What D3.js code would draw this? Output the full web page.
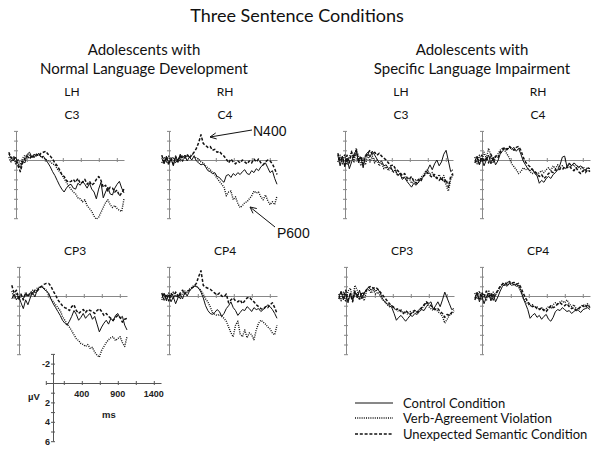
<!DOCTYPE html>
<html><head><meta charset="utf-8">
<script src="https://cdn.jsdelivr.net/npm/d3@7"></script>
<style>body{margin:0;background:#fff}svg{display:block}</style>
</head><body>
<svg id="c" width="600" height="456"></svg>
<script>
// ---------- DATA ----------
const times = [-100,-68,-36,-4,28,60,92,124,156,188,220,252,284,316,348,380,412,444,476,508,540,572,604,636,668,700,732,764,796,828,860,892,924,956,988,1020,1052,1084,1116,1148,1180,1212,1244,1276,1308,1340,1372,1404,1436,1468,1500];
const conditions = ["Control Condition","Verb-Agreement Violation","Unexpected Semantic Condition"];
const groupTitles = [["Adolescents with","Normal Language Development"],["Adolescents with","Specific Language Impairment"]];
const hemiLabels = ["LH","RH"];
const electrodes = ["C3","C4","CP3","CP4"];
const xTicks = [150,400,650,900,1150,1400];
const xTickLabels = ["400","900","1400"];
const yTickLabels = [-2,2,4,6];

// Normal language development
const nlC3Control = [-0.6,-0.2,0.1,-0.3,0.4,0.8,0.1,0.3,-0.6,-0.8,-0.3,-0.6,-0.4,-0.7,-0.3,-0.4,0.0,0.3,0.7,1.2,1.6,2.1,2.6,3.0,3.3,2.9,2.6,2.5,2.9,3.0,2.4,2.6,2.2,2.5,2.9,2.4,3.0,3.3,4.0,3.0,2.3,3.9,3.3,2.8,3.5,3.6,2.9,2.5,2.2,2.9,3.4];
const nlC3Verb = [-0.3,0.2,-0.2,0.4,-0.1,0.5,-0.2,-0.5,-0.3,-0.6,-0.2,-0.5,-0.4,-0.6,-0.3,-0.2,-0.1,0.1,0.2,0.4,0.5,0.9,1.2,1.5,1.9,2.3,2.7,3.0,3.3,3.5,3.9,4.0,4.3,4.1,4.7,5.0,5.3,5.8,6.1,5.9,5.4,4.9,4.4,4.1,4.6,4.9,4.7,5.0,5.2,5.3,4.0];
const nlC3Semantic = [-0.8,-0.2,-0.4,0.1,0.6,1.2,0.3,-0.2,-0.4,-0.1,-0.5,-0.3,-0.6,-0.4,-0.7,-0.8,-0.9,-0.6,-0.4,-0.1,0.3,0.6,1.0,1.5,1.7,2.1,2.3,2.2,2.0,2.3,1.9,2.4,2.3,2.0,2.5,2.2,2.6,2.4,2.0,1.7,2.1,2.8,2.6,3.2,2.8,2.9,3.3,3.1,3.7,3.4,3.0];
const nlC4Control = [-0.2,0.4,-0.4,0.3,-0.1,0.6,-0.3,0.2,-0.6,-0.2,-0.5,0.1,-0.3,0.0,-0.4,0.1,0.3,0.5,0.4,0.7,1.1,1.2,1.4,1.3,1.7,1.8,2.1,2.3,1.6,1.5,1.8,1.4,1.6,1.3,1.5,1.2,1.0,1.4,1.5,1.1,1.3,0.9,1.1,0.7,0.5,0.3,0.8,1.3,1.1,1.9,2.5];
const nlC4Verb = [0.3,-0.3,0.2,-0.4,0.1,-0.3,0.3,-0.2,0.1,-0.4,-0.1,-0.5,-0.3,-0.6,-0.4,-0.2,-0.1,0.2,0.3,0.6,0.8,1.0,1.3,1.5,1.9,2.2,2.5,2.8,3.7,3.3,3.2,4.1,3.8,4.5,4.9,4.7,4.4,4.3,4.0,3.7,3.2,3.4,3.3,3.8,4.1,3.6,4.2,4.6,4.3,4.6,3.7];
const nlC4Semantic = [-0.5,0.3,-0.3,0.5,-0.2,0.4,-0.4,0.2,-0.5,0.1,-0.3,-0.6,-0.2,-0.5,-0.8,-1.2,-1.8,-2.6,-1.7,-1.5,-1.3,-1.4,-1.0,-1.1,-0.8,-0.9,-0.6,-0.4,-0.1,0.3,-0.1,0.2,0.4,0.1,0.3,0.0,0.2,0.4,0.1,0.3,-0.1,0.2,-0.1,0.3,0.5,0.2,0.0,0.1,0.4,0.9,1.5];
const nlCP3Control = [0.3,-0.2,0.4,0.0,0.7,1.3,0.4,0.9,0.2,-0.4,0.1,-0.6,-0.9,-1.0,-0.7,-0.5,-0.3,0.3,0.8,1.2,1.6,2.0,2.5,2.8,3.0,2.6,2.1,1.5,1.9,2.5,2.2,1.8,2.3,2.0,1.8,2.4,2.1,2.9,3.7,3.2,2.8,2.5,2.9,2.3,2.6,2.0,1.8,2.3,2.1,3.0,3.5];
const nlCP3Verb = [-0.5,0.2,-0.3,0.4,-0.1,0.3,-0.4,0.0,-0.3,-0.6,-0.3,-0.8,-0.9,-1.0,-0.8,-0.6,-0.1,0.3,0.6,0.9,1.2,1.5,2.1,2.5,2.9,3.2,3.6,4.0,4.4,4.6,4.9,5.0,5.2,5.0,5.4,5.3,5.8,6.1,6.3,5.6,5.2,4.8,4.5,4.3,4.2,4.6,4.4,4.2,4.8,5.2,4.2];
const nlCP3Semantic = [-1.1,-0.3,-0.6,0.2,-0.2,0.4,-0.3,0.1,-0.4,-0.2,-0.6,-0.5,-0.8,-1.0,-1.2,-1.3,-1.3,-1.0,-0.5,-0.1,0.4,0.7,1.0,1.2,1.3,1.5,1.1,0.9,1.5,1.8,1.6,1.4,1.7,1.4,1.5,1.6,1.8,1.5,1.3,1.6,2.0,1.8,2.1,2.3,2.5,2.2,2.0,2.2,2.7,2.4,2.3];
const nlCP4Control = [0.2,-0.3,0.5,-0.1,0.6,0.1,0.8,0.2,-0.2,0.3,-0.4,0.0,-0.5,-0.8,-1.0,-1.0,-0.8,-0.4,0.2,1.0,1.5,1.8,1.9,1.7,1.4,1.6,2.1,1.8,1.3,1.0,0.6,1.2,1.5,2.0,1.7,1.4,1.5,1.1,1.3,1.6,1.2,1.4,1.3,1.6,1.4,1.2,0.9,1.1,1.4,1.8,2.3];
const nlCP4Verb = [0.4,-0.2,0.3,-0.3,0.2,-0.4,0.1,-0.2,0.3,-0.3,-0.5,-0.4,-0.7,-0.9,-1.1,-1.0,-0.8,-0.6,-0.2,0.3,0.6,1.1,1.7,1.9,2.0,1.9,2.1,2.3,2.6,3.2,3.8,4.2,3.0,2.6,3.9,4.2,3.5,4.3,3.8,4.0,4.5,3.5,2.8,2.5,2.7,2.9,3.2,3.4,3.8,4.0,3.0];
const nlCP4Semantic = [-0.3,0.4,-0.2,0.5,-0.3,0.2,-0.4,0.1,-0.3,-0.6,-0.2,-0.5,-0.6,-0.8,-1.0,-1.3,-2.0,-2.6,-1.1,-0.9,-0.8,-0.7,-0.5,-0.3,-0.1,-0.3,0.0,0.1,-0.2,0.7,0.4,0.2,0.5,0.6,0.4,0.8,0.5,0.2,0.1,0.4,0.6,0.9,1.1,1.3,1.4,1.1,1.2,0.9,0.7,1.2,1.8];

// Specific language impairment
const sliC3Control = [-0.5,0.6,-0.4,0.7,-0.2,0.9,0.2,-0.6,-1.0,0.3,-0.3,0.8,-0.5,-0.8,-0.3,-0.9,-0.5,-0.1,0.3,0.1,0.6,0.5,0.9,0.7,1.2,1.0,1.6,1.4,2.0,1.8,2.2,2.5,2.8,2.4,2.6,2.3,2.0,1.8,1.4,1.0,0.5,1.0,0.4,0.0,0.6,0.2,-0.6,-1.0,0.1,1.2,1.0];
const sliC3Verb = [0.2,-0.5,0.4,-0.6,0.5,-0.3,-0.9,0.3,-1.2,-0.4,0.6,-0.2,0.5,-0.6,0.2,-0.4,0.3,0.0,0.6,0.3,0.9,0.7,1.1,0.8,1.3,1.1,1.6,1.4,1.9,1.7,2.1,1.9,2.4,2.2,2.0,2.3,1.8,1.6,1.2,1.0,1.5,1.3,1.7,1.9,1.5,2.0,1.6,2.6,3.2,2.0,1.5];
const sliC3Semantic = [-0.7,0.1,-0.3,0.5,-0.5,0.3,-0.8,-0.2,-1.0,0.1,-0.4,0.4,-0.3,-0.7,-1.0,-0.6,-0.8,-0.5,-0.7,-0.4,-0.2,0.0,0.3,0.6,0.5,0.9,1.1,1.3,1.6,1.4,1.8,2.0,1.7,2.2,2.4,2.0,2.2,1.7,1.5,1.3,1.6,1.8,1.5,1.9,2.1,1.8,2.3,2.0,2.8,1.7,1.4];
const sliC4Control = [0.1,-0.4,0.5,-0.2,0.6,0.0,-0.5,0.4,-0.3,0.5,0.1,-0.6,-0.9,-1.2,-1.0,-1.3,-1.1,-1.3,-0.9,-1.2,-0.6,0.1,0.5,0.9,1.1,0.9,1.4,1.6,2.4,2.1,2.3,1.9,1.7,1.9,1.5,1.3,1.0,0.5,-0.3,-0.4,0.7,0.3,0.6,0.3,0.5,0.8,0.6,0.9,1.1,0.8,0.9];
const sliC4Verb = [-0.3,0.4,-0.5,0.2,-0.8,-0.2,-1.2,-0.4,0.3,-0.3,-0.6,-1.0,-1.2,-1.0,-0.6,-0.2,0.4,0.7,1.0,1.4,1.2,0.8,1.0,0.9,1.2,1.4,1.2,1.5,1.3,1.1,1.3,1.0,0.8,1.1,0.6,0.9,0.5,0.8,0.6,0.9,0.7,0.4,0.6,0.5,0.8,0.6,0.9,0.7,1.0,0.8,0.9];
const sliC4Semantic = [0.3,-0.2,0.4,-0.5,0.2,-0.3,0.3,-0.6,0.0,-0.4,-0.2,-0.8,-1.1,-1.3,-1.1,-1.4,-1.2,-1.0,-1.3,-1.4,-1.0,-0.3,0.2,0.5,0.7,1.0,1.2,1.4,1.7,1.5,1.9,1.7,1.4,1.2,1.3,1.0,1.1,0.9,1.0,0.7,0.8,0.6,0.9,1.1,0.8,1.2,1.4,1.1,1.3,1.0,1.2];
const sliCP3Control = [0.1,-0.5,0.4,-0.2,0.7,-0.3,0.5,-0.4,0.2,-0.6,0.3,-0.3,-0.7,-0.9,-0.6,-0.8,-0.5,-0.7,-0.3,0.3,0.6,0.8,1.0,1.2,1.8,2.5,2.2,2.0,2.3,2.6,2.3,2.0,2.1,1.8,1.9,1.6,1.4,1.5,1.1,0.8,0.6,1.4,1.0,0.6,1.1,0.4,-0.4,0.2,0.8,1.4,1.3];
const sliCP3Verb = [-0.2,0.5,-0.4,0.6,-0.5,-0.8,0.3,-1.1,-0.6,0.4,-0.3,0.5,-0.5,-0.7,-0.3,-0.6,-0.2,-0.4,0.0,0.4,0.6,0.9,1.1,1.0,1.3,1.4,1.6,1.4,1.8,1.7,1.9,1.6,1.8,1.5,1.7,1.4,1.3,1.0,0.7,1.1,1.3,1.5,1.3,1.6,1.8,2.1,2.8,2.4,2.0,1.8,1.6];
const sliCP3Semantic = [0.3,-0.3,0.2,-0.6,0.4,-0.2,0.6,-0.5,-0.1,0.3,-0.4,-0.2,-0.6,-0.9,-1.0,-0.8,-0.9,-0.7,-0.4,-0.1,0.2,0.5,0.8,1.0,1.2,1.4,1.3,1.6,1.8,1.5,1.7,1.9,1.6,1.5,1.7,1.4,1.2,0.9,0.6,0.8,1.0,1.2,1.4,1.3,1.6,1.8,2.2,1.9,2.0,1.7,1.5];
const sliCP4Control = [0.2,-0.4,0.6,-0.1,0.8,0.1,-0.3,0.5,-0.2,0.6,0.1,-0.5,-1.0,-1.2,-1.0,-1.3,-1.1,-1.2,-1.0,-1.1,-0.6,0.2,0.8,1.4,2.3,2.0,1.8,2.2,2.0,2.4,2.1,1.9,2.4,2.6,2.2,1.6,1.4,1.5,1.2,1.4,1.6,1.5,1.8,1.6,1.4,1.5,1.7,1.4,1.3,1.2,1.4];
const sliCP4Verb = [-0.3,0.3,-0.5,0.4,-0.2,0.5,-0.6,0.2,-0.4,-0.1,-0.5,-0.9,-1.3,-1.1,-1.4,-1.2,-1.4,-1.1,-1.3,-0.9,-0.4,0.2,0.6,0.8,1.0,0.9,1.2,1.1,1.4,1.2,1.5,1.3,1.1,1.3,0.9,0.7,0.9,0.6,0.5,0.7,0.4,0.8,1.1,0.9,1.3,1.4,1.1,0.9,1.0,0.8,1.1];
const sliCP4Semantic = [0.4,-0.2,0.3,-0.4,0.1,-0.5,0.2,-0.3,0.4,-0.2,-0.6,-1.0,-1.2,-1.4,-1.2,-1.5,-1.3,-1.4,-1.2,-1.3,-0.9,-0.3,0.2,0.6,0.9,1.1,1.0,1.3,1.4,1.2,1.5,1.6,1.3,1.0,1.2,1.1,0.8,0.7,0.9,1.0,0.8,1.1,1.3,1.2,1.5,1.3,1.1,1.0,1.2,0.9,1.2];

// ---------- LAYOUT ----------
const svg = d3.select("#c");
const PX_MS = 0.072, PX_UV = 9.7;
const serif = "Lato, 'Open Sans', sans-serif";
const arial = "'Liberation Sans', Arial, sans-serif";
const styles = [
  {w:1.0, dash:null},
  {w:1.4, dash:"1,1.2"},
  {w:1.5, dash:"3,1.8"}
];

const panels = [
  {el:0, x0:16,  y0:160, series:[nlC3Control,nlC3Verb,nlC3Semantic]},
  {el:1, x0:169, y0:160, series:[nlC4Control,nlC4Verb,nlC4Semantic]},
  {el:2, x0:19,  y0:296, series:[nlCP3Control,nlCP3Verb,nlCP3Semantic]},
  {el:3, x0:169, y0:296, series:[nlCP4Control,nlCP4Verb,nlCP4Semantic]},
  {el:0, x0:345, y0:160, series:[sliC3Control,sliC3Verb,sliC3Semantic]},
  {el:1, x0:482, y0:160, series:[sliC4Control,sliC4Verb,sliC4Semantic]},
  {el:2, x0:346, y0:296, series:[sliCP3Control,sliCP3Verb,sliCP3Semantic]},
  {el:3, x0:482, y0:296, series:[sliCP4Control,sliCP4Verb,sliCP4Semantic]}
];

function makeScales(x0, y0){
  const x = d3.scaleLinear().domain([-100,1500]).range([x0-100*PX_MS, x0+1500*PX_MS]);
  const y = d3.scaleLinear().domain([-3,6]).range([y0-3*PX_UV, y0+6*PX_UV]);
  return {x,y};
}

function drawAxes(g, x, y, x0, y0, col, xt){
  const ax = g.append("g").attr("transform",`translate(0,${y0})`)
    .call(d3.axisBottom(x).tickValues(xt).tickSize(0).tickFormat(""));
  ax.select(".domain").attr("stroke",col).attr("stroke-width",1);
  ax.selectAll(".tick line").attr("y1",-2).attr("y2",2).attr("stroke",col);
  const ay = g.append("g").attr("transform",`translate(${x0},0)`)
    .call(d3.axisLeft(y).tickValues(d3.range(-3,7)).tickSize(0).tickFormat(""));
  ay.select(".domain").attr("stroke",col).attr("stroke-width",1);
  ay.selectAll(".tick line").attr("x1",-2).attr("x2",2).attr("stroke",col);
}

// Title texts
svg.append("text").attr("x",297).attr("y",22).attr("text-anchor","middle")
  .attr("font-family",serif).attr("font-size",18).attr("fill","#111").text("Three Sentence Conditions");
[[144,0],[472,1]].forEach(([cx,gi])=>{
  groupTitles[gi].forEach((t,k)=>{
    svg.append("text").attr("x",cx).attr("y",55+19*k).attr("text-anchor","middle")
      .attr("font-family",serif).attr("font-size",15).attr("fill","#111").text(t);
  });
});

panels.forEach(p=>{
  const {x,y} = makeScales(p.x0,p.y0);
  const g = svg.append("g");
  drawAxes(g,x,y,p.x0,p.y0,"#888",xTicks);
  const cx = p.x0+56;
  g.append("text").attr("x",cx).attr("y",p.y0-41).attr("text-anchor","middle")
    .attr("font-family",serif).attr("font-size",12).attr("fill","#111").text(electrodes[p.el]);
  if(p.el<2){
    g.append("text").attr("x",cx).attr("y",p.y0-64).attr("text-anchor","middle")
      .attr("font-family",serif).attr("font-size",12).attr("fill","#111").text(hemiLabels[p.el]);
  }
  const line = d3.line().x((d,i)=>x(times[i])).y(d=>y(d));
  p.series.forEach((s,k)=>{
    g.append("path").datum(s).attr("d",line).attr("fill","none")
      .attr("stroke","#111").attr("stroke-width",styles[k].w)
      .attr("stroke-dasharray",styles[k].dash).attr("stroke-linejoin","round");
  });
});

// Annotations
function arrow(x1,y1,x2,y2){
  svg.append("line").attr("x1",x1).attr("y1",y1).attr("x2",x2).attr("y2",y2)
    .attr("stroke","#111").attr("stroke-width",1);
  const a = Math.atan2(y1-y2,x1-x2), L=7, w=0.45;
  const p = d3.path();
  p.moveTo(x2+L*Math.cos(a+w), y2+L*Math.sin(a+w));
  p.lineTo(x2,y2);
  p.lineTo(x2+L*Math.cos(a-w), y2+L*Math.sin(a-w));
  svg.append("path").attr("d",p.toString()).attr("fill","none").attr("stroke","#111").attr("stroke-width",1);
}
arrow(252,130,210,137);
svg.append("text").attr("x",253).attr("y",136).attr("font-family",arial).attr("font-size",14).attr("fill","#111").text("N400");
arrow(275,227,250,207);
svg.append("text").attr("x",277).attr("y",238).attr("font-family",arial).attr("font-size",14).attr("fill","#111").text("P600");

// Scale bar
{
  const x0=53, y0=383;
  const {x,y} = makeScales(x0,y0);
  const g = svg.append("g");
  drawAxes(g,x,y,x0,y0,"#555",[-100].concat(xTicks));
  const lbl = [400,900,1400];
  lbl.forEach((v,i)=>{
    g.append("text").attr("x",x(v)).attr("y",y0+14).attr("text-anchor","middle")
      .attr("font-family",arial).attr("font-weight","bold").attr("font-size",9).attr("fill","#222").text(xTickLabels[i]);
  });
  yTickLabels.forEach(v=>{
    g.append("text").attr("x",x0-3).attr("y",y(v)+3.5).attr("text-anchor","end")
      .attr("font-family",arial).attr("font-weight","bold").attr("font-size",9).attr("fill","#222").text(v);
  });
  g.append("text").attr("x",28).attr("y",400).attr("font-family",arial).attr("font-weight","bold")
    .attr("font-size",9.5).attr("fill","#222").text("µV");
  g.append("text").attr("x",102).attr("y",418).attr("font-family",arial).attr("font-weight","bold")
    .attr("font-size",9.5).attr("fill","#222").text("ms");
}

// Legend
conditions.forEach((c,k)=>{
  const yy = [403,418,434][k];
  svg.append("line").attr("x1",355).attr("x2",393).attr("y1",yy).attr("y2",yy)
    .attr("stroke","#111").attr("stroke-width",styles[k].w).attr("stroke-dasharray",styles[k].dash);
  svg.append("text").attr("x",403).attr("y",yy+4.5).attr("font-family",serif).attr("font-size",13)
    .attr("fill","#111").text(c);
});
</script>
</body></html>
